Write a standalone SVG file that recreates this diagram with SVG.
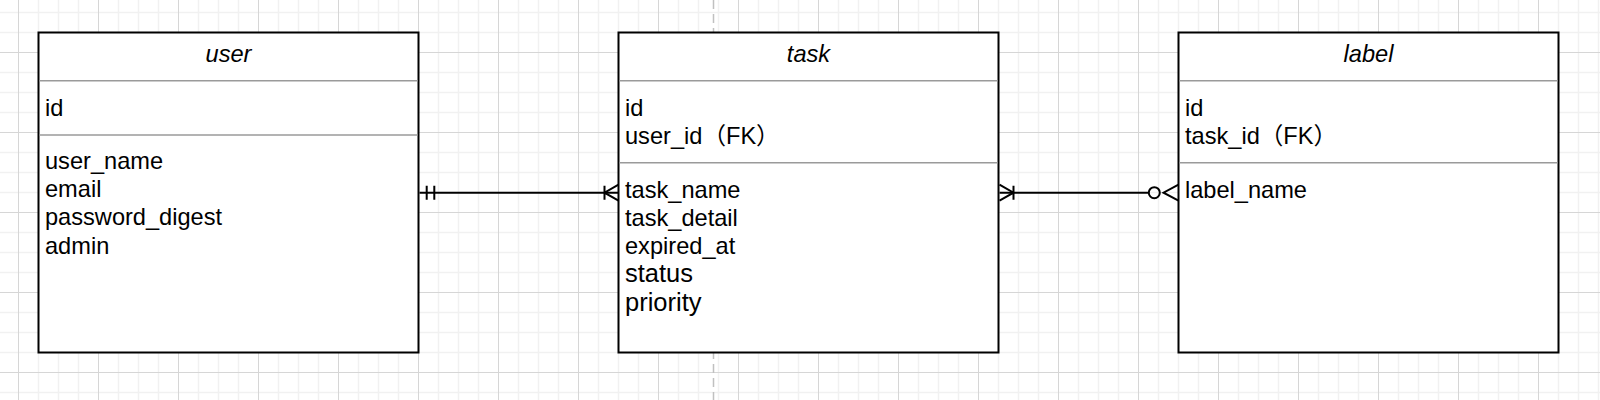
<svg xmlns="http://www.w3.org/2000/svg" width="1600" height="400" viewBox="0 0 1600 400">
<style>
.box{fill:#ffffff;stroke:#000000;stroke-width:2}
.sep{stroke:#9a9a9a;stroke-width:1.6;fill:none}
.title{font-family:"Liberation Sans","Noto Sans CJK JP",Arial,sans-serif;font-size:23.6px;font-style:italic;fill:#000;text-anchor:middle}
.attr{font-family:"Liberation Sans","Noto Sans CJK JP",Arial,sans-serif;font-size:23.6px;fill:#000}
.attr13{font-size:25.5px}
.conn{stroke:#000;stroke-width:2;fill:none}
.pb{stroke:#c0c0c0;stroke-width:1.5;stroke-dasharray:9 5;fill:none}
</style>
<defs>
<pattern id="grid" patternUnits="userSpaceOnUse" x="18" y="52" width="80" height="80">
<path d="M20.5 0V80M40.5 0V80M60.5 0V80M0 20.5H80M0 40.5H80M0 60.5H80" stroke="#f1f1f1" stroke-width="1.5" fill="none"/>
<path d="M0.5 0V80M0 0.5H80" stroke="#d6d6d6" stroke-width="1" fill="none"/>
</pattern>
</defs>
<rect x="0" y="0" width="1600" height="400" fill="#ffffff"/>
<rect x="0" y="0" width="1600" height="400" fill="url(#grid)"/>
<path class="pb" d="M713.5 0V400"/>

<g id="user">
<rect class="box" x="38.5" y="32.5" width="380" height="320"/>
<text class="title" x="228.5" y="62.3">user</text>
<path class="sep" d="M39.5 80.7H417.5M39.5 135H417.5"/>
<text class="attr" x="45" y="115.7">id</text>
<text class="attr" x="45" y="169">user_name</text>
<text class="attr" x="45" y="197.2">email</text>
<text class="attr" x="45" y="225.4">password_digest</text>
<text class="attr" x="45" y="253.6">admin</text>
</g>

<g id="task">
<rect class="box" x="618.5" y="32.5" width="380" height="320"/>
<text class="title" x="808.5" y="62.3">task</text>
<path class="sep" d="M619.5 80.7H997.5M619.5 162.7H997.5"/>
<text class="attr" x="625" y="115.7">id</text>
<text class="attr" x="625" y="144">user_id（FK）</text>
<text class="attr" x="625" y="197.7">task_name</text>
<text class="attr" x="625" y="225.9">task_detail</text>
<text class="attr" x="625" y="254.1">expired_at</text>
<text class="attr attr13" x="625" y="282.3">status</text>
<text class="attr attr13" x="625" y="310.5">priority</text>
</g>

<g id="label">
<rect class="box" x="1178.5" y="32.5" width="380" height="320"/>
<text class="title" x="1368.5" y="62.3">label</text>
<path class="sep" d="M1179.5 80.7H1557.5M1179.5 162.7H1557.5"/>
<text class="attr" x="1185" y="115.7">id</text>
<text class="attr" x="1185" y="144">task_id（FK）</text>
<text class="attr" x="1185" y="197.7">label_name</text>
</g>

<g id="connectors">
<g id="user-task">
<path class="conn" d="M419.5 192.7H618.5"/>
<path class="conn" d="M426.7 185.7V199.7M434.3 185.7V199.7"/>
<path class="conn" d="M604.5 185.7V199.7M618.5 184.7L604.5 192.7L618.5 200.7"/>
</g>
<g id="task-label">
<path class="conn" d="M999.5 192.7H1148.7"/>
<path class="conn" d="M999.5 184.7L1013.5 192.7L999.5 200.7M1013.5 185.7V199.7"/>
<circle class="conn" cx="1154.3" cy="192.7" r="5.5"/>
<path class="conn" d="M1178.5 184.7L1163.5 192.7L1178.5 200.7"/>
</g>
</g>
</svg>
